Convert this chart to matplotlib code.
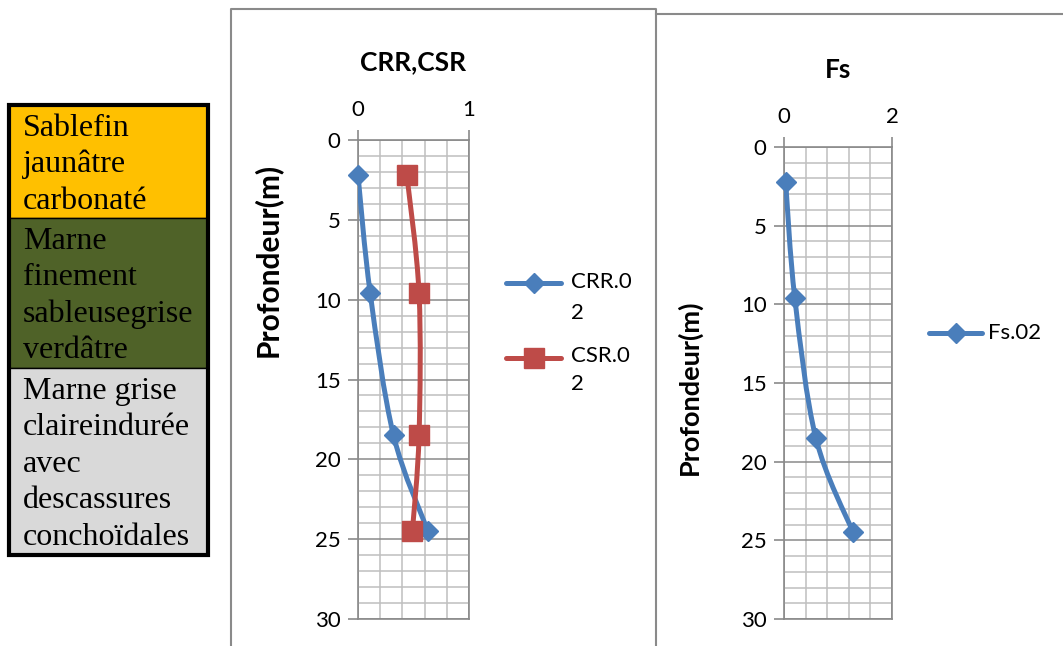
import numpy as np
import matplotlib
matplotlib.use("Agg")
import matplotlib.pyplot as plt
from matplotlib.patches import Rectangle, PathPatch
from matplotlib.path import Path
from matplotlib.ticker import MultipleLocator

plt.rcParams['font.family'] = ['Lato', 'DejaVu Sans']

# data
depth = [2.2, 9.6, 18.5, 24.5]
crr = [0.0, 0.11, 0.32, 0.63]
csr = [0.44, 0.55, 0.55, 0.49]
fs = [0.03, 0.20, 0.59, 1.28]

layer_text = [
    ["Sablefin", "jaunâtre", "carbonaté"],
    ["Marne", "finement", "sableusegrise", "verdâtre"],
    ["Marne grise", "claireindurée", "avec", "descassures", "conchoïdales"],
]
layer_colors = ["#FFC000", "#4F6228", "#D9D9D9"]

BLUE = "#4A7EBB"
RED = "#BE4B48"
GRID = "#BFBFBF"
AXIS = "#8A8A8A"


def smooth_path(xs, ys):
    # excel-like smoothed line through the points (bezier segments)
    p = np.column_stack([xs, ys]).astype(float)
    ext = np.vstack([p[0], p, p[-1]])
    verts = [p[0]]
    codes = [Path.MOVETO]
    for i in range(len(p) - 1):
        c1 = ext[i + 1] + (ext[i + 2] - ext[i]) / 6
        c2 = ext[i + 2] - (ext[i + 3] - ext[i + 1]) / 6
        verts += [c1, c2, p[i + 1]]
        codes += [Path.CURVE4] * 3
    return Path(verts, codes)


def depth_axes(rect, xmax):
    ax = fig.add_axes(rect, zorder=2)
    ax.set_facecolor('none')
    ax.set_xlim(0, xmax)
    ax.set_ylim(30, 0)
    ax.xaxis.set_major_locator(MultipleLocator(xmax))
    ax.xaxis.set_minor_locator(MultipleLocator(xmax / 5))
    ax.yaxis.set_major_locator(MultipleLocator(5))
    ax.yaxis.set_minor_locator(MultipleLocator(1))
    ax.set_axisbelow(True)
    ax.grid(which='minor', color=GRID, lw=1.1)
    ax.grid(which='major', axis='y', color=AXIS, lw=1.1)
    ax.grid(which='major', axis='x', color=AXIS, lw=1.1)
    for s in ax.spines.values():
        s.set_color(AXIS)
        s.set_linewidth(1.2)
    ax.tick_params(top=True, bottom=False, labeltop=True, labelbottom=False)
    ax.tick_params(which='major', length=7.5, width=1.2, color=AXIS,
                   labelsize=16, labelcolor='black')
    ax.tick_params(axis='x', pad=7)
    ax.tick_params(axis='y', pad=5)
    ax.tick_params(which='minor', length=0)
    return ax


def draw_series(ax, x, y, color, marker, ms):
    ax.add_patch(PathPatch(smooth_path(x, y), fc='none', ec=color, lw=3.6,
                           capstyle='round', joinstyle='round', zorder=3))
    ax.plot(x, y, ls='none', marker=marker, ms=ms, color=color, mec=color,
            zorder=4, clip_on=False)


fig = plt.figure(figsize=(10.63, 6.46), dpi=100)

# background layer in pixel units: chart frames, layer table, legends
bg = fig.add_axes([0, 0, 1, 1], zorder=0)
bg.set_xlim(0, 1063)
bg.set_ylim(646, 0)
bg.axis('off')

bg.plot([231, 231, 656, 656], [646, 9, 9, 646], color=AXIS, lw=1.5)
bg.plot([656, 1063], [14, 14], color=AXIS, lw=1.5)

bounds = [105, 218, 368, 555]
for k, lines in enumerate(layer_text):
    top, bot = bounds[k], bounds[k + 1]
    bg.add_patch(Rectangle((9, top), 199, bot - top, fc=layer_colors[k],
                           ec='black', lw=1))
    for j, line in enumerate(lines):
        bg.text(23, top + 31 + j * 36.4, line, family='Liberation Serif',
                fontsize=23, va='baseline', ha='left', color='black')
bg.add_patch(Rectangle((9, 105), 199, 450, fc='none', ec='black', lw=3))

# CRR / CSR chart
ax1 = depth_axes([358 / 1063, 1 - 619 / 646, 111 / 1063, 479 / 646], 1)
draw_series(ax1, crr, depth, BLUE, 'D', 10)
draw_series(ax1, csr, depth, RED, 's', 14)
ax1.set_ylabel('Profondeur(m)', fontsize=21.5, fontweight='bold')
ax1.yaxis.set_label_coords(-0.69, 0.75)
bg.text(413, 62, 'CRR,CSR', ha='center', va='center', fontsize=19,
        fontweight='bold')

# Fs chart
ax2 = depth_axes([784 / 1063, 1 - 619 / 646, 108 / 1063, 472 / 646], 2)
draw_series(ax2, fs, depth, BLUE, 'D', 10)
ax2.set_ylabel('Profondeur(m)', fontsize=19.5, fontweight='bold')
ax2.yaxis.set_label_coords(-0.76, 0.49)
bg.text(838, 70, 'Fs', ha='center', va='center', fontsize=19,
        fontweight='bold')

# legends
bg.plot([506, 561], [283, 283], color=BLUE, lw=3.6, solid_capstyle='round')
bg.plot([533.5], [283], marker='D', ms=10, color=BLUE)
bg.text(571, 282, 'CRR.0', va='center', fontsize=16)
bg.text(571, 313, '2', va='center', fontsize=16)
bg.plot([506, 561], [358, 358], color=RED, lw=3.6, solid_capstyle='round')
bg.plot([533.5], [358], marker='s', ms=14, color=RED)
bg.text(571, 356, 'CSR.0', va='center', fontsize=16)
bg.text(571, 384, '2', va='center', fontsize=16)
bg.plot([929, 982], [333, 333], color=BLUE, lw=3.6, solid_capstyle='round')
bg.plot([955.5], [333], marker='D', ms=10, color=BLUE)
bg.text(988, 333, 'Fs.02', va='center', fontsize=16)

fig.savefig('out.png', dpi=100)
